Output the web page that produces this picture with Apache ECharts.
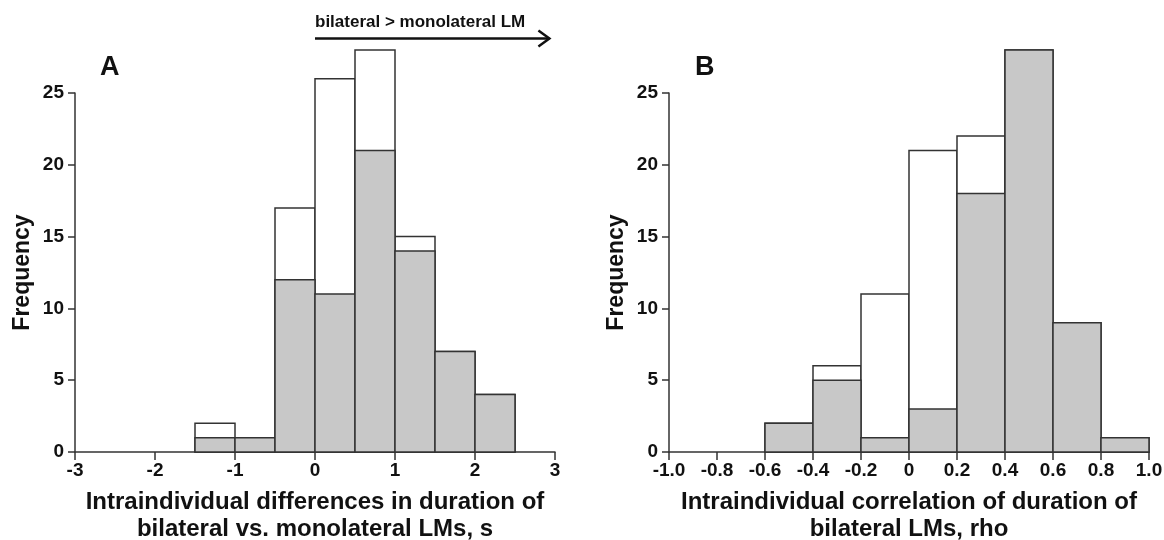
<!DOCTYPE html>
<html>
<head>
<meta charset="utf-8">
<title>LM duration histograms</title>
<script src="https://cdn.jsdelivr.net/npm/echarts@6/dist/echarts.min.js"></script>
</head>
<body style="margin:0; background:#fff">
<div id="chart" style="width:1164px;height:540px"></div>
<script>
// panel A: bilateral - monolateral duration differences (s)
var binStartA = [-1.5, -1, -0.5, 0, 0.5, 1, 1.5, 2];
var grayA = [1, 1, 12, 11, 21, 14, 7, 4];
var totalA = [2, 1, 17, 26, 28, 15, 7, 4];
var binWidthA = 0.5;
var xTicksA = ['-3', '-2', '-1', '0', '1', '2', '3'];

// panel B: correlation of durations (rho)
var binStartB = [-0.6, -0.4, -0.2, 0, 0.2, 0.4, 0.6, 0.8];
var grayB = [2, 5, 1, 3, 18, 28, 9, 1];
var totalB = [2, 6, 11, 21, 22, 28, 9, 1];
var binWidthB = 0.2;
var xTicksB = ['-1.0', '-0.8', '-0.6', '-0.4', '-0.2', '0', '0.2', '0.4', '0.6', '0.8', '1.0'];

var FONT = '"Liberation Sans", Arial, sans-serif';
var INK = '#333';

function pairs(starts, vals) {
    return starts.map(function (s, i) { return [s, vals[i]]; });
}

function histRender(width, fill) {
    return function (params, api) {
        var x0 = api.value(0);
        var p0 = api.coord([x0, 0]);
        var p1 = api.coord([x0 + width, api.value(1)]);
        return {
            type: 'rect',
            shape: { x: p0[0], y: p1[1], width: p1[0] - p0[0], height: p0[1] - p1[1] },
            style: { fill: fill, stroke: INK, lineWidth: 1.5 }
        };
    };
}

function xAxisOf(idx, min, max, step, ticks, name) {
    return {
        gridIndex: idx, type: 'value', min: min, max: max, interval: step,
        name: name, nameLocation: 'middle', nameGap: 37,
        nameTextStyle: { fontFamily: FONT, fontWeight: 'bold', fontSize: 24, color: '#111', lineHeight: 27 },
        axisLine: { onZero: false, lineStyle: { color: INK, width: 1.5 } },
        axisTick: { show: true, inside: false, length: 8, lineStyle: { color: INK, width: 1.5 } },
        axisLabel: {
            inside: false, margin: 9, fontFamily: FONT, fontWeight: 'bold', fontSize: 19, color: '#111',
            formatter: function (v) { return ticks[Math.round((v - min) / step)]; }
        },
        splitLine: { show: false }
    };
}

function yAxisOf(idx) {
    return {
        gridIndex: idx, type: 'value', min: 0, max: 25, interval: 5,
        name: 'Frequency', nameLocation: 'middle', nameGap: 41,
        nameTextStyle: { fontFamily: FONT, fontWeight: 'bold', fontSize: 23, color: '#111' },
        axisLine: { show: true, onZero: false, lineStyle: { color: INK, width: 1.5 } },
        axisTick: { show: true, inside: false, length: 7, lineStyle: { color: INK, width: 1.5 } },
        axisLabel: { inside: false, margin: 11, fontFamily: FONT, fontWeight: 'bold', fontSize: 19, color: '#111' },
        splitLine: { show: false }
    };
}

var chart = echarts.init(document.getElementById('chart'));

chart.setOption({
    animation: false,
    title: [
        { text: 'A', left: 95, top: 49, textStyle: { fontFamily: FONT, fontWeight: 'bold', fontSize: 27, color: '#111' } },
        { text: 'B', left: 690, top: 49, textStyle: { fontFamily: FONT, fontWeight: 'bold', fontSize: 27, color: '#111' } }
    ],
    grid: [
        { left: 75, right: 609, top: 93, bottom: 88, containLabel: false, outerBoundsMode: 'none' },
        { left: 669, right: 15, top: 93, bottom: 88, containLabel: false, outerBoundsMode: 'none' }
    ],
    xAxis: [
        xAxisOf(0, -3, 3, 1, xTicksA, 'Intraindividual differences in duration of\nbilateral vs. monolateral LMs, s'),
        xAxisOf(1, -1, 1, 0.2, xTicksB, 'Intraindividual correlation of duration of\nbilateral LMs, rho')
    ],
    yAxis: [yAxisOf(0), yAxisOf(1)],
    series: [
        { type: 'custom', name: 'total A', xAxisIndex: 0, yAxisIndex: 0, clip: false,
          renderItem: histRender(binWidthA, '#ffffff'), data: pairs(binStartA, totalA) },
        { type: 'custom', name: 'gray A', xAxisIndex: 0, yAxisIndex: 0, clip: false,
          renderItem: histRender(binWidthA, '#c8c8c8'), data: pairs(binStartA, grayA) },
        { type: 'custom', name: 'total B', xAxisIndex: 1, yAxisIndex: 1, clip: false,
          renderItem: histRender(binWidthB, '#ffffff'), data: pairs(binStartB, totalB) },
        { type: 'custom', name: 'gray B', xAxisIndex: 1, yAxisIndex: 1, clip: false,
          renderItem: histRender(binWidthB, '#c8c8c8'), data: pairs(binStartB, grayB) }
    ]
});

// arrow "bilateral > monolateral LM" above panel A, from x = 0 toward the right
var a0 = chart.convertToPixel({ gridIndex: 0 }, [0, 28.8]);
var a1 = chart.convertToPixel({ gridIndex: 0 }, [2.93, 28.8]);
chart.setOption({
    graphic: [
        { type: 'line', shape: { x1: a0[0], y1: a0[1], x2: a1[0], y2: a1[1] },
          style: { stroke: '#111', lineWidth: 2.5 } },
        { type: 'polyline', shape: { points: [[a1[0] - 11, a1[1] - 8], [a1[0], a1[1]], [a1[0] - 11, a1[1] + 8]] },
          style: { stroke: '#111', lineWidth: 2.5, fill: 'none' } },
        { type: 'text', x: a0[0], y: a0[1] - 8,
          style: { text: 'bilateral > monolateral LM', font: 'bold 17px ' + FONT, fill: '#111',
                   textAlign: 'left', textVerticalAlign: 'bottom' } }
    ]
});
</script>
</body>
</html>
